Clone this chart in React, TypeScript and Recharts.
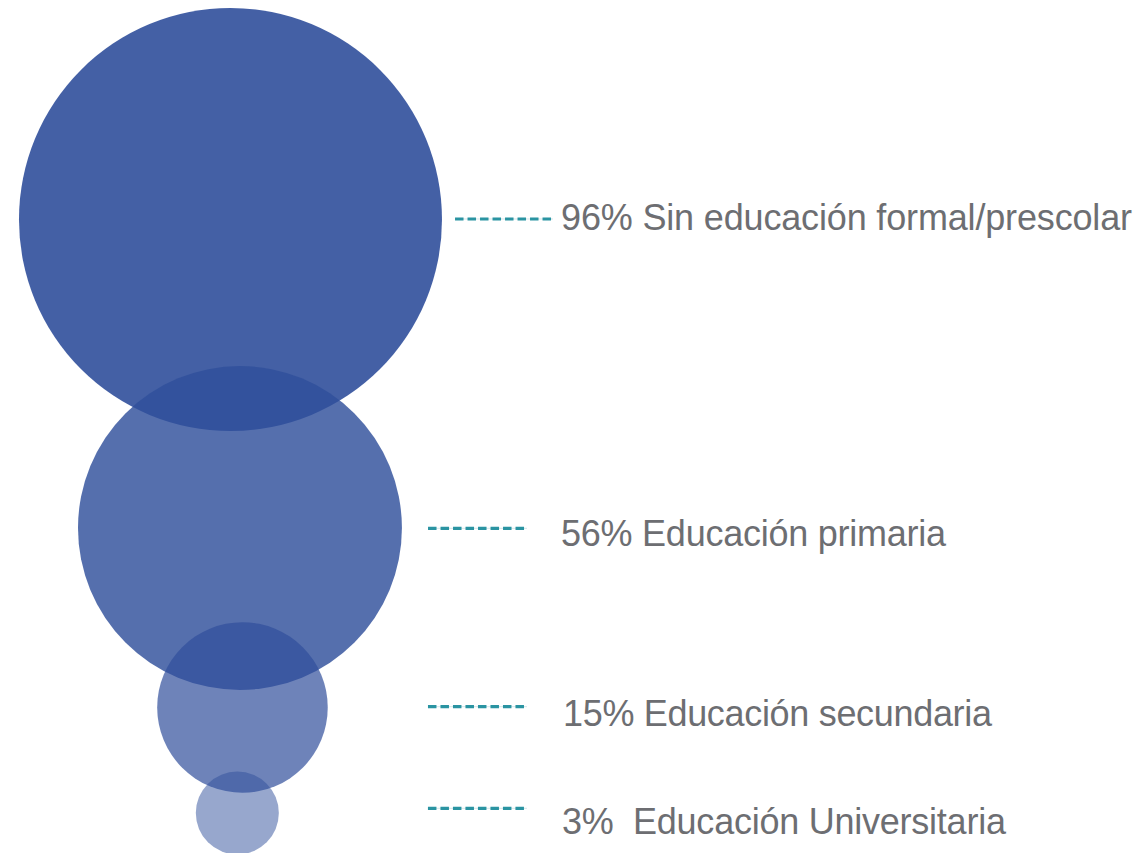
import React from 'react';
import { ScatterChart, Scatter, XAxis, YAxis, ZAxis } from 'recharts';

// Education level categories and share (%)
const categories = [
  'Sin educación formal/prescolar',
  'Educación primaria',
  'Educación secundaria',
  'Educación Universitaria',
];
const percentages = [96, 56, 15, 3];
const percentLabels = ['96%', '56%', '15%', '3% '];

// bubble placement on an abstract 0-100 plane
const bubbleX = [20.2, 21.03, 21.25, 20.8];
const bubbleY = [74.27, 38.1, 17.06, 4.69];
const labelAnchorX = [49.17, 49.17, 49.34, 49.25];

const W = 1141;
const H = 853;
const BASE = '#304F9B';
const OPACITIES = [0.9, 0.82, 0.7, 0.5];

// label styling per row (offsets from anchor)
const LABEL_STYLE = [
  { lineFrom: -106, lineTo: -8, lineDy: -0.5, textDy: 11, width: 571 },
  { lineFrom: -133, lineTo: -34, lineDy: 0.3, textDy: 18, width: 385 },
  { lineFrom: -135, lineTo: -36, lineDy: -0.8, textDy: 19, width: 429 },
  { lineFrom: -134, lineTo: -35, lineDy: -4.7, textDy: 21.5, width: 444 },
];

const bubbleData = categories.map((c, i) => ({
  name: c,
  x: bubbleX[i],
  y: bubbleY[i],
  z: percentages[i],
  idx: i,
}));

const labelData = categories.map((c, i) => ({
  name: c,
  x: labelAnchorX[i],
  y: bubbleY[i],
  idx: i,
  text: `${percentLabels[i]} ${c}`,
}));

const Bubble = (props: any) => {
  const { cx, cy, size, width, payload } = props;
  const r = size ? Math.sqrt(size / Math.PI) : width / 2;
  return (
    <circle
      cx={cx}
      cy={cy}
      r={r}
      fill={BASE}
      fillOpacity={OPACITIES[payload.idx]}
    />
  );
};

const Label = (props: any) => {
  const { cx, cy, payload } = props;
  const s = LABEL_STYLE[payload.idx];
  const ly = cy + s.lineDy;
  return (
    <g>
      <line
        x1={cx + s.lineFrom}
        x2={cx + s.lineTo}
        y1={ly}
        y2={ly}
        stroke="#D3E6E9"
        strokeWidth={1}
      />
      <line
        x1={cx + s.lineFrom}
        x2={cx + s.lineTo}
        y1={ly}
        y2={ly}
        stroke="#2A94A2"
        strokeWidth={3.2}
        strokeDasharray="8.5 4"
      />
      <text
        x={cx}
        y={cy + s.textDy}
        fill="#6D6E72"
        fontSize={36}
        fontFamily="'Liberation Sans', Arial, Helvetica, sans-serif"
        textLength={s.width}
        lengthAdjust="spacing"
        style={{ whiteSpace: 'pre' }}
        xmlSpace="preserve"
      >
        {payload.text}
      </text>
    </g>
  );
};

export default function App() {
  return (
    <div style={{ position: 'absolute', left: 0, top: 0, width: W, height: H, background: '#fff' }}>
      <ScatterChart width={W} height={H} margin={{ top: 0, right: 0, bottom: 0, left: 0 }}>
        <XAxis type="number" dataKey="x" domain={[0, 100]} hide />
        <YAxis type="number" dataKey="y" domain={[0, 100]} hide />
        <ZAxis type="number" dataKey="z" domain={[0, 96]} range={[1052, 140531]} />
        <Scatter data={bubbleData} shape={Bubble} isAnimationActive={false} />
        <Scatter data={labelData} shape={Label} isAnimationActive={false} />
      </ScatterChart>
    </div>
  );
}
